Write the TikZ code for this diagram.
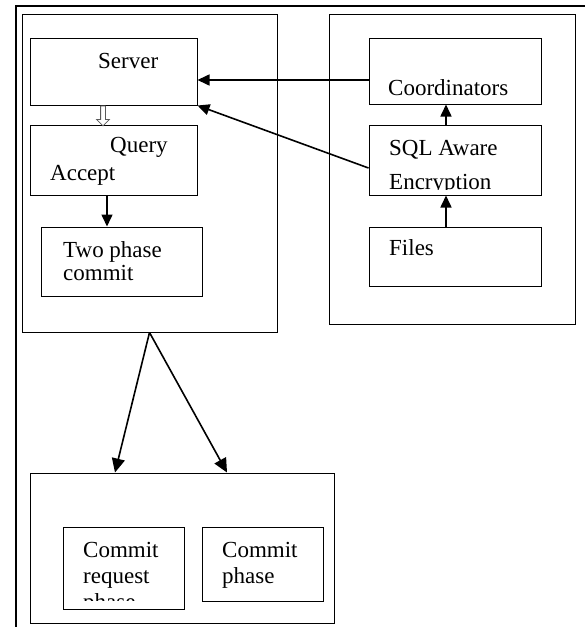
\documentclass[tikz,border=0pt]{standalone}
\usepackage{fontspec}
\setmainfont{Liberation Serif}
\usetikzlibrary{arrows.meta, calc, shapes.arrows}
\tikzset{
    box/.style = {draw, line width=1pt, inner sep=0pt},
    txt/.style = {anchor=base west, inner sep=0pt, font=\fontsize{23}{26}\selectfont},
    link/.style = {line width=1.6pt, -{Triangle[length=12pt,width=11pt]}},
}
\begin{document}
\begin{tikzpicture}[x=1pt, y=-1pt]
\useasboundingbox (0,0) rectangle (585,627);
\coordinate (ftr) at (585,6);
\coordinate (ftl) at (16,6);
\coordinate (fbl) at (16,627);
\draw[line width=2.8pt] (ftr) -- (ftl) -- (fbl);

% left panel
\node[box, minimum width=255pt, minimum height=318pt] (lp) at (149.5,173) {};
\node[box, minimum width=167pt, minimum height=67pt] (srv) at (113.5,71.5) {};
\node[txt] (srvt) at (98,68) {Server};
\node[box, minimum width=167pt, minimum height=70pt] (qry) at (113.5,160) {};
\node[txt] (qryt) at (110,152) {Query};
\node[txt] (acct) at (50,180) {Accept};
\node[box, minimum width=161pt, minimum height=69pt] (two) at (121.5,261.5) {};
\node[txt] (twot) at (63,257) {Two phase};
\node[txt] (comt) at (63,280) {commit};

\node[single arrow, draw=gray!70!black, fill=white, line width=0.8pt, inner sep=2pt,
      shape border rotate=270, minimum height=20pt, minimum width=12pt,
      single arrow head extend=4pt, anchor=tail] (hol) at ($(srv.south)+(-10.5,0)$) {};
\draw[link] ($(qry.south)+(-6.5,0)$) -- ($(two.north)+(-14.5,0)$);

% right panel
\node[box, minimum width=246pt, minimum height=310pt] (rp) at (452,169) {};
\node[box, minimum width=172pt, minimum height=66pt] (crd) at (455,71) {};
\node[txt] (crdt) at (388,95) {Coordinators};
\node[box, minimum width=172pt, minimum height=70pt] (sql) at (455,160) {};
\node[txt] (sqlt) at (389,155) {SQL Aware};
\begin{scope}
\clip (369,125) rectangle (541,189);
\node[txt] (enct) at (389,189) {Encryption};
\end{scope}
\node[box, minimum width=172pt, minimum height=59pt] (fil) at (455,256.5) {};
\node[txt] (filt) at (389,255) {Files};

\draw[link] ($(fil.north)+(-9,0)$) -- ($(sql.south)+(-9,0)$);
\draw[link] ($(sql.north)+(-9,0)$) -- ($(crd.south)+(-9,0)$);
\draw[link] ($(crd.west)+(0,9)$) -- ($(srv.east)+(0,8.5)$);
\draw[link] ($(sql.west)+(0,8)$) -- (srv.south east);

% bottom panel
\node[box, minimum width=304pt, minimum height=150pt] (bb) at (182,548) {};
\node[box, minimum width=121pt, minimum height=82pt] (crq) at (123.5,568) {};
\node[txt] (crqa) at (83,557) {Commit};
\node[txt] (crqb) at (83,583) {request};
\begin{scope}
\clip (63,527) rectangle (184,600);
\node[txt] (crqc) at (83,609) {phase};
\end{scope}
\node[box, minimum width=121pt, minimum height=74pt] (cph) at (262.5,564) {};
\node[txt] (cpha) at (222,557) {Commit};
\node[txt] (cphb) at (222,583) {phase};

\draw[link, -{Triangle[length=14pt,width=13pt]}] (lp.south) -- ($(bb.north)+(-67,0)$);
\draw[link, -{Triangle[length=14pt,width=13pt]}] (lp.south) -- ($(bb.north)+(45,0)$);
\end{tikzpicture}
\end{document}
